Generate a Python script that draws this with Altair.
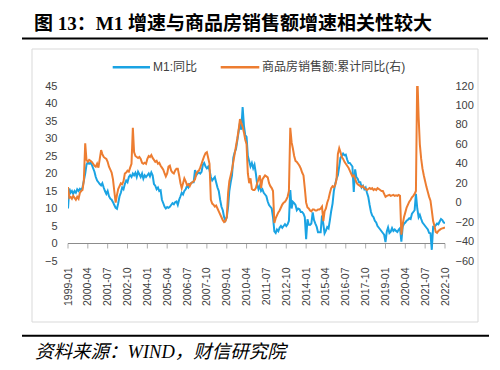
import altair as alt
import pandas as pd

TITLE = "图 13：M1 增速与商品房销售额增速相关性较大"
SOURCE = "资料来源：WIND，财信研究院"
SERIES = ["M1:同比", "商品房销售额:累计同比(右)"]
START_YEAR = 1999
TICK_LABELS = ["1999-01", "2000-04", "2001-07", "2002-10", "2004-01", "2005-04",
               "2006-07", "2007-10", "2009-01", "2010-04", "2011-07", "2012-10",
               "2014-01", "2015-04", "2016-07", "2017-10", "2019-01", "2020-04",
               "2021-07", "2022-10"]
LEFT_TICKS = [-5, 0, 5, 10, 15, 20, 25, 30, 35, 40, 45]
RIGHT_TICKS = [-60, -40, -20, 0, 20, 40, 60, 80, 100, 120]

# M1 YoY (%), monthly from 1999-01 to 2022-10
M1 = [
    10.0, 15.7, 14.5, 15.0, 14.2, 15.0, 14.5, 15.5, 15.0, 15.6, 15.2, 16.0,   # 1999
    18.0, 20.0, 22.5, 23.2, 22.8, 23.0, 22.5, 21.5, 20.5, 19.0, 18.0, 17.5,   # 2000
    17.0, 16.6, 17.2, 16.0, 15.0, 14.2, 15.0, 13.5, 12.8, 12.5, 11.8, 11.0,   # 2001
    10.2, 9.9, 11.5, 13.5, 14.5, 16.0, 15.5, 17.0, 18.0, 17.5, 19.0, 19.5,    # 2002
    19.0, 20.0, 19.5, 20.2, 19.0, 20.5, 19.8, 19.0, 20.0, 18.5, 19.5, 19.0,   # 2003
    19.5, 20.0, 19.2, 20.3, 19.5, 17.0, 16.5, 15.5, 16.0, 15.0, 15.2, 12.5,   # 2004
    11.5, 10.5, 10.0, 10.4, 10.2, 10.5, 11.0, 11.5, 11.2, 11.8, 12.0, 11.0,   # 2005
    12.5, 13.5, 14.5, 14.0, 15.0, 15.5, 16.5, 16.0, 17.0, 17.2, 17.5, 17.5,   # 2006
    21.0, 19.5, 20.0, 20.3, 20.0, 20.5, 22.5, 23.0, 22.0, 21.5, 22.0, 21.0,   # 2007
    19.0, 18.0, 18.5, 19.0, 17.5, 16.0, 15.0, 12.5, 10.5, 9.5, 7.5, 6.6,      # 2008
    7.5, 10.5, 15.0, 17.5, 19.5, 24.5, 26.0, 27.0, 29.5, 32.0, 34.5, 32.5,    # 2009
    39.0, 33.5, 31.0, 30.5, 25.0, 23.5, 22.0, 23.0, 21.5, 22.5, 20.0, 17.0,   # 2010
    15.5, 16.5, 15.0, 15.5, 14.5, 14.0, 13.5, 12.0, 11.0, 10.5, 10.0, 7.5,    # 2011
    3.5, 3.0, 4.0, 3.5, 4.5, 5.0, 4.5, 5.0, 5.5, 5.0, 5.5, 6.5,               # 2012
    15.3, 10.0, 11.9, 11.5, 11.0, 9.5, 10.0, 9.8, 9.0, 9.0, 8.5, 7.5,         # 2013
    1.2, 6.9, 5.4, 5.3, 5.7, 8.9, 6.7, 5.7, 4.8, 3.2, 3.2, 3.2,               # 2014
    8.0, 5.6, 2.9, 3.7, 4.7, 4.3, 6.6, 9.3, 11.4, 15.0, 17.0, 18.5,           # 2015
    19.5, 22.0, 24.5, 25.0, 25.7, 25.2, 25.4, 24.0, 23.0, 23.0, 22.5, 22.0,   # 2016
    14.7, 21.2, 19.0, 18.5, 17.5, 17.5, 16.0, 16.5, 15.5, 16.0, 14.5, 13.3,   # 2017
    11.0, 9.0, 8.0, 7.5, 6.5, 6.0, 5.0, 4.5, 4.0, 3.5, 3.0, 2.5,              # 2018
    0.4, 3.5, 4.6, 3.0, 3.4, 4.4, 3.6, 4.0, 3.6, 3.3, 4.0, 4.4,               # 2019
    0.5, 4.8, 5.6, 6.0, 6.5, 6.8, 7.2, 7.0, 8.5, 9.0, 9.5, 14.2,              # 2020
    10.0, 7.5, 8.2, 7.0, 6.0, 5.5, 5.0, 4.5, 4.0, 3.0, 2.9, -1.8,             # 2021
    4.8, 4.8, 5.2, 5.7, 5.5, 6.3, 7.0, 6.7, 6.0, 5.8,                         # 2022
]

# Commercial housing sales, cumulative YoY (%), right axis
SALES = [
    16, 5, 6, 4, 7, 5, 3, 6, 4, 10, 12, 13,                  # 1999
    23, 61, 44, 42, 44, 43, 42, 40, 38, 37, 40, 36,          # 2000
    45, 54, 50, 47, 46, 45, 42, 37, 34, 31, 24, 12,          # 2001
    0, 8, 14, 17, 20, 19, 22, 30, 31, 33, 32, 36,            # 2002
    40, 77, 52, 48, 47, 46, 47, 45, 41, 40, 41, 40,          # 2003
    45, 48, 47, 49, 46, 44, 42, 43, 40, 41, 38, 36,          # 2004
    34, 30, 27, 30, 37, 38, 33, 31, 30, 33, 35, 35,          # 2005
    28, 20, 15, 20, 25, 22, 18, 19, 17, 20, 21, 22,          # 2006
    24, 30, 32, 33, 36, 40, 44, 48, 51, 52, 46, 40,          # 2007
    3, -1, -2, -4, -3, -6, -9, -12, -15, -18, -20, -19,      # 2008
    -15, 10, 22, 28, 34, 42, 50, 58, 66, 75, 86, 82,         # 2009
    78, 72, 65, 60, 30, 20, 25, 14, 13, 13, 15, 20,          # 2010
    24, 28, 15, 24, 26, 28, 27, 26, 20, 17, 15, 12,          # 2011
    -21, -16, -13, -10, -8, -5, -2, 0, 1, 3, 6, 12,          # 2012
    77, 62, 56, 48, 43, 42, 40, 38, 35, 31, 28, 15,          # 2013
    0, -5, -6, -8, -9, -7, -7, -8, -8, -7, -7, -6,           # 2014
    -4, -19, -9, -6, 0, 4, 10, 15, 17, 16, 18, 24,           # 2015
    50, 56, 52, 47, 45, 42, 40, 38, 36, 33, 30, 27,          # 2016
    28, 25, 21, 19, 18, 17, 16, 17, 15, 14, 13, 14,          # 2017
    15, 14, 15, 13, 14, 13, 15, 14, 13, 12, 12, 9,           # 2018
    6, 7, 7.5, 8, 7, 7.5, 8, 7, 7.5, 7, 8, 7,                # 2019
    -33, -22, -15, -10, -5, -2, 1, 3, 5.5, 7, 9, 12,         # 2020
    133.4, 88, 60, 45, 35, 28, 22, 16, 11, 6, 2, -8,         # 2021
    -19, -24, -30, -31, -29, -28, -27, -26.5, -26, -25.5,    # 2022
]

BLUE = "#1AA3E3"
ORANGE = "#ED7D31"
AXIS_GRAY = "#8C8C8C"
TEXT_GRAY = "#404040"
LATIN_CJK = "Liberation Sans, Noto Sans CJK SC"
SERIF_CJK = "Liberation Serif, Noto Sans CJK SC"

dates = [f"{START_YEAR + i // 12}-{i % 12 + 1:02d}-01" for i in range(len(M1))]
df = pd.DataFrame({"date": dates, "m1": M1, "sales": SALES})
tick_df = pd.DataFrame({"date": [t + "-01" for t in TICK_LABELS]})


def to_dt(label):
    y, m = label.split("-")
    return alt.DateTime(year=int(y), month=int(m), date=1, utc=True)


X = alt.X(
    "date:T",
    scale=alt.Scale(type="utc", domain=[to_dt(TICK_LABELS[0]), to_dt(TICK_LABELS[-1])]),
    axis=alt.Axis(
        values=[to_dt(t) for t in TICK_LABELS],
        labelExpr="utcFormat(datum.value, '%Y-%m')",
        labelAngle=-90, labelPadding=6, labelFontSize=10.5, labelColor=TEXT_GRAY,
        labelFont=LATIN_CJK, domain=False, ticks=False, tickSize=0, grid=False,
        title=None, labelOverlap=False,
    ),
)

left_scale = alt.Scale(domain=[LEFT_TICKS[0], LEFT_TICKS[-1]], nice=False, zero=False)
right_scale = alt.Scale(domain=[RIGHT_TICKS[0], RIGHT_TICKS[-1]], nice=False, zero=False)

LEFT_AXIS = alt.Axis(
    values=LEFT_TICKS, title=None, domain=False, ticks=False, tickSize=0,
    grid=False, labelPadding=11, labelFontSize=11, labelColor=TEXT_GRAY,
    labelFont=LATIN_CJK, labelOverlap=False, labelBound=False)

RIGHT_AXIS = alt.Axis(
    orient="right", values=RIGHT_TICKS, title=None, domain=False, ticks=False,
    tickSize=0, grid=False, labelPadding=10, labelFontSize=11,
    labelColor=TEXT_GRAY, labelFont=LATIN_CJK, labelOverlap=False,
    labelBound=False)

zero_rule = alt.Chart(pd.DataFrame({"k": [0]})).mark_rule(
    color=AXIS_GRAY, strokeWidth=1
).encode(y=alt.datum(0, scale=left_scale, axis=LEFT_AXIS))

ticks = alt.Chart(tick_df).mark_tick(
    orient="vertical", size=5, thickness=1, yOffset=2.5, color=AXIS_GRAY
).encode(x=X, y=alt.datum(0, scale=left_scale, axis=LEFT_AXIS))

blue = alt.Chart(df).mark_line(color=BLUE, strokeWidth=2, clip=True).encode(
    x=X,
    y=alt.Y("m1:Q", scale=left_scale, axis=LEFT_AXIS),
)

left_layer = alt.layer(zero_rule, ticks, blue)

orange = alt.Chart(df).mark_line(color=ORANGE, strokeWidth=2, clip=True).encode(
    x=X,
    y=alt.Y("sales:Q", scale=right_scale, axis=RIGHT_AXIS),
)

one = pd.DataFrame({"k": [0]})

box = alt.Chart(one).mark_rect(fillOpacity=0, stroke="#D9D9D9", strokeWidth=1).encode(
    x=alt.value(-36), x2=alt.value(410), y=alt.value(-37), y2=alt.value(236))

title = alt.Chart(pd.DataFrame({"t": [TITLE]})).mark_text(
    align="left", baseline="middle", fontSize=19, fontWeight="bold",
    font=SERIF_CJK, color="black"
).encode(text="t:N", x=alt.value(-34), y=alt.value(-62))

title_line = alt.Chart(one).mark_rule(color="black", strokeWidth=2).encode(
    x=alt.value(-46), x2=alt.value(420), y=alt.value(-47.5))

bottom_line = alt.Chart(one).mark_rule(color="black", strokeWidth=2).encode(
    x=alt.value(-46), x2=alt.value(421), y=alt.value(249.7))

source = alt.Chart(pd.DataFrame({"t": [SOURCE]})).mark_text(
    align="left", baseline="middle", fontSize=18.5, fontStyle="italic",
    font=SERIF_CJK, color="black"
).encode(text="t:N", x=alt.value(-33), y=alt.value(265.5))

leg_blue_line = alt.Chart(one).mark_rule(color=BLUE, strokeWidth=2.5).encode(
    x=alt.value(44.7), x2=alt.value(82), y=alt.value(-18.7))
leg_blue_text = alt.Chart(pd.DataFrame({"t": [SERIES[0]]})).mark_text(
    align="left", baseline="middle", fontSize=12, font=LATIN_CJK, color=TEXT_GRAY
).encode(text="t:N", x=alt.value(85), y=alt.value(-18.7))
leg_orange_line = alt.Chart(one).mark_rule(color=ORANGE, strokeWidth=2.5).encode(
    x=alt.value(152.7), x2=alt.value(191.3), y=alt.value(-18.7))
leg_orange_text = alt.Chart(pd.DataFrame({"t": [SERIES[1]]})).mark_text(
    align="left", baseline="middle", fontSize=12, font=LATIN_CJK, color=TEXT_GRAY
).encode(text="t:N", x=alt.value(194), y=alt.value(-18.7))

chart = alt.layer(
    box, title, title_line, bottom_line, source,
    leg_blue_line, leg_blue_text, leg_orange_line, leg_orange_text,
    left_layer, orange,
).resolve_scale(y="independent").properties(
    width=377, height=175,
    padding={"left": 60, "top": 78, "right": 47, "bottom": 106},
    autosize=alt.AutoSizeParams(type="none"),
).configure_view(strokeWidth=0)

chart.save("out.html", embed_options={"renderer": "svg", "actions": False})
